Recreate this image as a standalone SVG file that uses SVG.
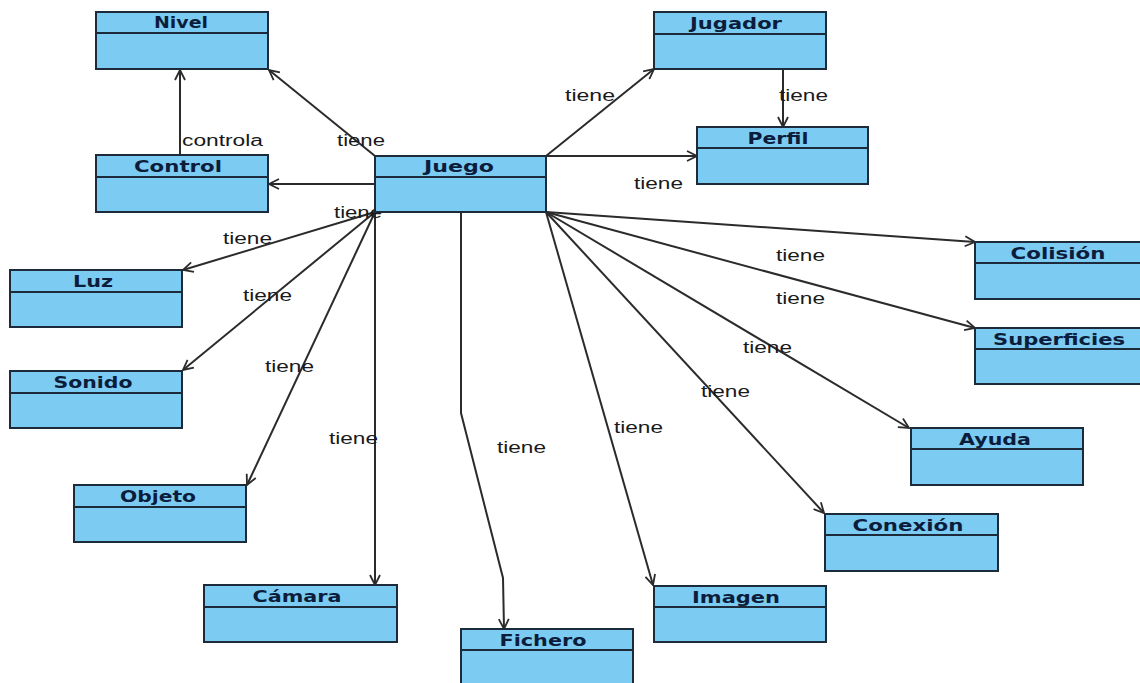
<svg xmlns="http://www.w3.org/2000/svg" width="1140" height="683" viewBox="0 0 1140 683">
  <style>
    .box { fill: #7ccbf2; stroke: #1c2a3a; stroke-width: 2; }
    .div { stroke: #1c2a3a; stroke-width: 2; }
    .title { font-family: "DejaVu Sans", "Liberation Sans", sans-serif; font-weight: bold; font-size: 15px; fill: #0c1d3c; text-anchor: middle; }
    .edge { fill: none; stroke: #2b2b2b; stroke-width: 2; marker-end: url(#open); }
    .lbl { font-family: "Liberation Sans", Arial, sans-serif; font-size: 16px; fill: #1a1a1a; }
  </style>
  <defs>
    <marker id="open" viewBox="0 0 12 12" refX="11" refY="6" markerWidth="12" markerHeight="12" markerUnits="userSpaceOnUse" orient="auto">
      <path d="M1,1 L11,6 L1,11" fill="none" stroke="#2b2b2b" stroke-width="1.8"/>
    </marker>
  </defs>
  <rect width="1140" height="683" fill="#ffffff"/>

  <!-- connectors -->
  <g id="connectors">
    <line class="edge" x1="375" y1="156" x2="269" y2="70"/>
    <line class="edge" x1="180" y1="155" x2="180" y2="70"/>
    <line class="edge" x1="375" y1="184" x2="269" y2="184"/>
    <line class="edge" x1="375" y1="212" x2="183" y2="270"/>
    <line class="edge" x1="375" y1="212" x2="183" y2="370"/>
    <line class="edge" x1="375" y1="212" x2="247" y2="485"/>
    <line class="edge" x1="375" y1="212" x2="375" y2="585"/>
    <polyline class="edge" points="461,212 461,413 503,578 504,629"/>
    <line class="edge" x1="546" y1="212" x2="653" y2="585"/>
    <line class="edge" x1="546" y1="212" x2="824" y2="513"/>
    <line class="edge" x1="546" y1="212" x2="909" y2="428"/>
    <line class="edge" x1="546" y1="212" x2="975" y2="328"/>
    <line class="edge" x1="546" y1="212" x2="975" y2="242"/>
    <line class="edge" x1="546" y1="156" x2="654" y2="69"/>
    <line class="edge" x1="546" y1="156" x2="697" y2="156"/>
    <line class="edge" x1="783" y1="69" x2="783" y2="127"/>

    <text class="lbl" x="337" y="146" textLength="48" lengthAdjust="spacingAndGlyphs">tiene</text>
    <text class="lbl" x="182" y="146" textLength="81" lengthAdjust="spacingAndGlyphs">controla</text>
    <text class="lbl" x="334" y="218" textLength="48" lengthAdjust="spacingAndGlyphs">tiene</text>
    <text class="lbl" x="223" y="244" textLength="49" lengthAdjust="spacingAndGlyphs">tiene</text>
    <text class="lbl" x="243" y="301" textLength="49" lengthAdjust="spacingAndGlyphs">tiene</text>
    <text class="lbl" x="265" y="372" textLength="49" lengthAdjust="spacingAndGlyphs">tiene</text>
    <text class="lbl" x="329" y="444" textLength="49" lengthAdjust="spacingAndGlyphs">tiene</text>
    <text class="lbl" x="497" y="453" textLength="49" lengthAdjust="spacingAndGlyphs">tiene</text>
    <text class="lbl" x="614" y="433" textLength="49" lengthAdjust="spacingAndGlyphs">tiene</text>
    <text class="lbl" x="701" y="397" textLength="49" lengthAdjust="spacingAndGlyphs">tiene</text>
    <text class="lbl" x="743" y="353" textLength="49" lengthAdjust="spacingAndGlyphs">tiene</text>
    <text class="lbl" x="776" y="304" textLength="49" lengthAdjust="spacingAndGlyphs">tiene</text>
    <text class="lbl" x="776" y="261" textLength="49" lengthAdjust="spacingAndGlyphs">tiene</text>
    <text class="lbl" x="565" y="101" textLength="50" lengthAdjust="spacingAndGlyphs">tiene</text>
    <text class="lbl" x="779" y="101" textLength="49" lengthAdjust="spacingAndGlyphs">tiene</text>
    <text class="lbl" x="634" y="189" textLength="49" lengthAdjust="spacingAndGlyphs">tiene</text>
  </g>

  <!-- classes -->
  <g id="nivel">
    <rect class="box" x="96" y="12" width="172" height="57"/>
    <line class="div" x1="96" y1="33" x2="268" y2="33"/>
    <text class="title" x="181" y="28" textLength="54" lengthAdjust="spacingAndGlyphs">Nivel</text>
  </g>
  <g id="control">
    <rect class="box" x="96" y="155" width="172" height="57"/>
    <line class="div" x1="96" y1="177" x2="268" y2="177"/>
    <text class="title" x="178" y="172" textLength="88" lengthAdjust="spacingAndGlyphs">Control</text>
  </g>
  <g id="juego">
    <rect class="box" x="375" y="156" width="171" height="56"/>
    <line class="div" x1="375" y1="177" x2="546" y2="177"/>
    <text class="title" x="459" y="172" textLength="70" lengthAdjust="spacingAndGlyphs">Juego</text>
  </g>
  <g id="jugador">
    <rect class="box" x="654" y="12" width="172" height="57"/>
    <line class="div" x1="654" y1="34" x2="826" y2="34"/>
    <text class="title" x="736" y="29" textLength="92" lengthAdjust="spacingAndGlyphs">Jugador</text>
  </g>
  <g id="perfil">
    <rect class="box" x="697" y="127" width="171" height="57"/>
    <line class="div" x1="697" y1="148" x2="868" y2="148"/>
    <text class="title" x="778" y="144" textLength="61" lengthAdjust="spacingAndGlyphs">Perfil</text>
  </g>
  <g id="colision">
    <rect class="box" x="975" y="242" width="172" height="57"/>
    <line class="div" x1="975" y1="263" x2="1147" y2="263"/>
    <text class="title" x="1058" y="259" textLength="95" lengthAdjust="spacingAndGlyphs">Colisión</text>
  </g>
  <g id="superficies">
    <rect class="box" x="975" y="328" width="172" height="56"/>
    <line class="div" x1="975" y1="349" x2="1147" y2="349"/>
    <text class="title" x="1059" y="345" textLength="132" lengthAdjust="spacingAndGlyphs">Superficies</text>
  </g>
  <g id="luz">
    <rect class="box" x="10" y="270" width="172" height="57"/>
    <line class="div" x1="10" y1="292" x2="182" y2="292"/>
    <text class="title" x="93" y="287" textLength="40" lengthAdjust="spacingAndGlyphs">Luz</text>
  </g>
  <g id="sonido">
    <rect class="box" x="10" y="371" width="172" height="57"/>
    <line class="div" x1="10" y1="393" x2="182" y2="393"/>
    <text class="title" x="93" y="388" textLength="79" lengthAdjust="spacingAndGlyphs">Sonido</text>
  </g>
  <g id="objeto">
    <rect class="box" x="74" y="485" width="172" height="57"/>
    <line class="div" x1="74" y1="507" x2="246" y2="507"/>
    <text class="title" x="158" y="502" textLength="76" lengthAdjust="spacingAndGlyphs">Objeto</text>
  </g>
  <g id="camara">
    <rect class="box" x="204" y="585" width="193" height="57"/>
    <line class="div" x1="204" y1="607" x2="397" y2="607"/>
    <text class="title" x="297" y="602" textLength="89" lengthAdjust="spacingAndGlyphs">Cámara</text>
  </g>
  <g id="fichero">
    <rect class="box" x="461" y="629" width="172" height="57"/>
    <line class="div" x1="461" y1="650" x2="633" y2="650"/>
    <text class="title" x="543" y="646" textLength="87" lengthAdjust="spacingAndGlyphs">Fichero</text>
  </g>
  <g id="imagen">
    <rect class="box" x="654" y="586" width="172" height="56"/>
    <line class="div" x1="654" y1="607" x2="826" y2="607"/>
    <text class="title" x="736" y="603" textLength="88" lengthAdjust="spacingAndGlyphs">Imagen</text>
  </g>
  <g id="conexion">
    <rect class="box" x="825" y="514" width="173" height="57"/>
    <line class="div" x1="825" y1="535" x2="998" y2="535"/>
    <text class="title" x="908" y="531" textLength="111" lengthAdjust="spacingAndGlyphs">Conexión</text>
  </g>
  <g id="ayuda">
    <rect class="box" x="911" y="428" width="172" height="57"/>
    <line class="div" x1="911" y1="449" x2="1083" y2="449"/>
    <text class="title" x="995" y="445" textLength="72" lengthAdjust="spacingAndGlyphs">Ayuda</text>
  </g>
</svg>
